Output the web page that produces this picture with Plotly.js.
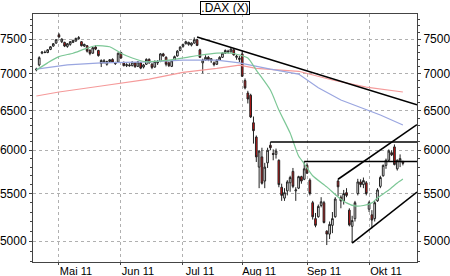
<!DOCTYPE html>
<html><head><meta charset="utf-8">
<script src="https://cdn.plot.ly/plotly-3.0.1.min.js"></script>
<style>html,body{margin:0;padding:0;background:#fff}#chart{width:450px;height:276px;outline:2px solid #d4d4d4;outline-offset:-2px}</style>
</head><body><div id="chart"></div>
<script>
const dates = ['2011-04-18','2011-04-19','2011-04-20','2011-04-21','2011-04-26','2011-04-27','2011-04-28','2011-04-29',
'2011-05-02','2011-05-03','2011-05-04','2011-05-05','2011-05-06','2011-05-09','2011-05-10','2011-05-11','2011-05-12','2011-05-13',
'2011-05-16','2011-05-17','2011-05-18','2011-05-19','2011-05-20','2011-05-23','2011-05-24','2011-05-25','2011-05-26','2011-05-27','2011-05-30','2011-05-31',
'2011-06-01','2011-06-02','2011-06-03','2011-06-06','2011-06-07','2011-06-08','2011-06-09','2011-06-10','2011-06-13','2011-06-14','2011-06-15','2011-06-16','2011-06-17',
'2011-06-20','2011-06-21','2011-06-22','2011-06-23','2011-06-24','2011-06-27','2011-06-28','2011-06-29','2011-06-30',
'2011-07-01','2011-07-04','2011-07-05','2011-07-06','2011-07-07','2011-07-08','2011-07-11','2011-07-12','2011-07-13','2011-07-14','2011-07-15',
'2011-07-18','2011-07-19','2011-07-20','2011-07-21','2011-07-22','2011-07-25','2011-07-26','2011-07-27','2011-07-28','2011-07-29',
'2011-08-01','2011-08-02','2011-08-03','2011-08-04','2011-08-05','2011-08-08','2011-08-09','2011-08-10','2011-08-11','2011-08-12',
'2011-08-15','2011-08-16','2011-08-17','2011-08-18','2011-08-19','2011-08-22','2011-08-23','2011-08-24','2011-08-25','2011-08-26','2011-08-29','2011-08-30','2011-08-31',
'2011-09-01','2011-09-02','2011-09-05','2011-09-06','2011-09-07','2011-09-08','2011-09-09','2011-09-12','2011-09-13','2011-09-14','2011-09-15','2011-09-16',
'2011-09-19','2011-09-20','2011-09-21','2011-09-22','2011-09-23','2011-09-26','2011-09-27','2011-09-28','2011-09-29','2011-09-30',
'2011-10-03','2011-10-04','2011-10-05','2011-10-06','2011-10-07','2011-10-10','2011-10-11','2011-10-12','2011-10-13','2011-10-14','2011-10-17','2011-10-18','2011-10-19'];

const open = [7050,7120,7290,7305,7300,7345,7395,7440,
7565,7460,7450,7390,7420,7450,7470,7505,7460,7395,
7400,7330,7290,7380,7330,7140,7160,7130,7170,7200,7150,7160,
7300,7150,7110,7120,7110,7150,7100,7150,7090,7130,7200,7130,7090,
7150,7170,7280,7230,7150,7100,7190,7250,7330,
7390,7430,7420,7410,7440,7490,7340,7150,7190,7230,7180,
7150,7130,7190,7230,7290,7320,7310,7340,7230,7200,
7280,6900,6730,6700,6340,6160,5800,5920,5640,5850,
6060,5960,5950,5880,5570,5450,5530,5620,5750,5530,5560,5690,5660,
5820,5650,5400,5230,5250,5370,5400,5100,5070,5160,5250,5640,
5460,5420,5510,5320,5150,5230,5500,5630,5600,5620,
5330,5270,5230,5420,5580,5700,5820,5880,5970,6040,5780,5870,5860];

const high = [7080,7245,7320,7330,7350,7395,7440,7500,
7590,7510,7460,7440,7470,7490,7520,7545,7470,7430,
7410,7350,7380,7405,7340,7200,7205,7180,7205,7215,7165,7300,
7310,7170,7145,7145,7170,7160,7170,7160,7135,7215,7215,7150,7185,
7190,7290,7295,7245,7170,7190,7255,7335,7390,
7430,7475,7460,7450,7525,7505,7355,7210,7260,7250,7220,
7170,7200,7245,7300,7345,7340,7365,7350,7265,7250,
7320,6930,6760,6720,6420,6180,6000,6030,5850,6030,
6100,6010,6020,5890,5610,5560,5650,5700,5790,5570,5700,5700,5870,
5845,5670,5420,5290,5380,5460,5420,5110,5200,5300,5460,5660,
5480,5540,5560,5340,5260,5420,5665,5660,5680,5640,
5420,5320,5420,5560,5700,5830,5900,6010,6000,6070,5890,5950,5875];

const low = [7030,7100,7275,7290,7290,7335,7385,7430,
7520,7440,7380,7370,7400,7440,7460,7490,7390,7380,
7300,7260,7280,7335,7240,7090,7140,7110,7150,7150,7120,7150,
7210,7100,7090,7095,7100,7080,7090,7060,7070,7120,7140,7060,7080,
7120,7160,7240,7100,7090,7090,7180,7240,7320,
7370,7420,7400,7390,7430,7395,7220,7000,7180,7175,7150,
7100,7120,7180,7220,7280,7285,7300,7255,7195,7160,
6950,6780,6590,6400,6080,5860,5560,5600,5560,5790,
6000,5880,5900,5570,5420,5420,5480,5520,5560,5420,5550,5610,5650,
5720,5480,5220,5140,5240,5350,5180,4960,5020,5080,5240,5470,
5340,5380,5460,5150,4980,5200,5480,5570,5560,5480,
5300,5130,5200,5410,5560,5690,5780,5870,5930,5820,5760,5800,5820];

const close = [7060,7225,7305,7300,7340,7385,7430,7490,
7530,7500,7395,7430,7460,7480,7510,7520,7400,7420,
7320,7285,7370,7350,7255,7185,7180,7170,7195,7160,7140,7290,
7220,7110,7125,7110,7160,7095,7165,7075,7120,7200,7150,7085,7170,
7160,7280,7250,7130,7110,7180,7240,7320,7380,
7420,7460,7450,7440,7490,7405,7230,7190,7230,7195,7210,
7125,7190,7230,7290,7330,7310,7350,7265,7245,7215,
6960,6800,6650,6415,6240,5920,5990,5615,5800,6000,
6030,5950,5990,5600,5480,5510,5630,5680,5580,5540,5690,5640,5780,
5730,5500,5250,5160,5360,5410,5190,5070,5170,5230,5440,5575,
5420,5500,5480,5165,5210,5400,5630,5600,5645,5500,
5400,5215,5400,5540,5680,5820,5880,5990,5945,5830,5880,5900,5845];

const ma1Dates = ['2011-04-18','2011-04-26','2011-05-02','2011-05-09','2011-05-13','2011-05-19','2011-05-26','2011-06-01','2011-06-07','2011-06-14','2011-06-24','2011-07-01','2011-07-11','2011-07-19','2011-07-26','2011-07-29','2011-08-03','2011-08-08','2011-08-15','2011-08-18','2011-08-24','2011-08-29','2011-08-31','2011-09-05','2011-09-12','2011-09-16','2011-09-21','2011-09-26','2011-09-29','2011-10-04','2011-10-06','2011-10-12','2011-10-17','2011-10-19'];
const ma1 = [7047,7150,7240,7290,7350,7400,7385,7290,7220,7165,7190,7220,7260,7290,7290,7264,7220,7047,6770,6504,6210,5930,5840,5700,5574,5463,5398,5365,5370,5398,5453,5540,5618,5663];
const ma2Dates = ['2011-04-18','2011-05-05','2011-05-23','2011-06-15','2011-07-01','2011-07-19','2011-07-29','2011-08-15','2011-08-29','2011-09-07','2011-09-19','2011-09-30','2011-10-07','2011-10-19'];
const ma2 = [7060,7120,7150,7165,7190,7190,7150,7060,6990,6800,6636,6504,6439,6311];
const ma3Dates = ['2011-04-18','2011-05-02','2011-05-23','2011-06-15','2011-07-01','2011-07-19','2011-07-29','2011-08-08','2011-08-29','2011-09-14','2011-09-30','2011-10-19'];
const ma3 = [6690,6744,6825,6921,7015,7070,7118,7070,7030,6908,6811,6744];

// trend lines: start date / start value / value at right edge of chart
const trendStart = ['2011-07-08','2011-08-15','2011-08-31','2011-09-16','2011-09-23'];
const trendStartVal = [7530,6100,5865,5660,4979];
const trendEndVal = [6572,6100,5865,6317,5517];

const monthNames = {'05':'Mai','06':'Jun','07':'Jul','08':'Aug','09':'Sep','10':'Okt'};
const yTicks = [5000,5500,6000,6500,7000,7500];

const idx = d => dates.indexOf(d);
const xs = dates.map((d,i)=>i);
const tickIdx=[], tickText=[];
dates.forEach((d,i)=>{ if(i>0 && d.slice(5,7)!==dates[i-1].slice(5,7)){ tickIdx.push(i); tickText.push(monthNames[d.slice(5,7)]+' '+d.slice(2,4)); }});
const xRange = [-1.2, 135];
const yRange = [3.6807, 3.8969];
const minorY = []; for(let v=4800; v<=7900; v+=100) minorY.push(v);

const ff = '"Liberation Sans", Arial, sans-serif';
const font = {family:ff, size:12, color:'#000'};
const traces = [
  {type:'scatter', mode:'lines', x:ma3Dates.map(idx), y:ma3, line:{color:'#f59a9a', width:1.2}, hoverinfo:'skip'},
  {type:'scatter', mode:'lines', x:ma2Dates.map(idx), y:ma2, line:{color:'#9aa6e0', width:1.2}, hoverinfo:'skip'},
  {type:'scatter', mode:'lines', x:ma1Dates.map(idx), y:ma1, line:{color:'#7cc796', width:1.2, shape:'spline', smoothing:0.6}, hoverinfo:'skip'},
  {type:'candlestick', x:xs, open:open, high:high, low:low, close:close,
   increasing:{fillcolor:'#ffffff', line:{color:'#222', width:1}},
   decreasing:{fillcolor:'#e01010', line:{color:'#222', width:1}},
   whiskerwidth:0, hoverinfo:'skip'}
];
trendStart.forEach((d,k)=>{
  traces.push({type:'scatter', mode:'lines', x:[idx(d), xRange[1]], y:[trendStartVal[k], trendEndVal[k]],
    line:{color:'#000', width:1.6}, hoverinfo:'skip', yaxis: k===0 ? 'y2':'y'});
});

const yBase = {type:'log', range:yRange, tickvals:yTicks, ticktext:yTicks.map(String), tickfont:font,
  ticks:'outside', ticklen:3, tickcolor:'#444', showline:true, linecolor:'#444', linewidth:1, zeroline:false,
  minor:{tickvals:minorY, ticks:'outside', ticklen:2, tickcolor:'#444', showgrid:false}, fixedrange:true};

const layout = {
  width:450, height:276, margin:{l:33, r:33, t:14, b:14},
  paper_bgcolor:'#ffffff', plot_bgcolor:'#ffffff', showlegend:false, boxgap:0.15,
  xaxis:{type:'linear', range:xRange, tickvals:tickIdx, ticktext:tickText, tickfont:{family:ff, size:11, color:'#000'},
    ticklabelshift:17, ticklabelstandoff:-3,
    showgrid:true, gridcolor:'#b0b0b0', griddash:'dot', gridwidth:1, showline:true, linecolor:'#444', mirror:true,
    ticks:'outside', ticklen:2, tickcolor:'#444', zeroline:false, rangeslider:{visible:false}, fixedrange:true},
  yaxis:Object.assign({}, yBase, {side:'left', showgrid:true, gridcolor:'#b0b0b0', griddash:'dot', gridwidth:1, mirror:true}),
  yaxis2:Object.assign({}, yBase, {side:'right', overlaying:'y', showgrid:false}),
  annotations:[{text:'.DAX (X)', xref:'paper', yref:'paper', x:0.5, y:1.024, xanchor:'center', yanchor:'middle',
    showarrow:false, font:{family:ff, size:12, color:'#000'}, width:48, height:12,
    bgcolor:'#fff', bordercolor:'#000', borderwidth:1, borderpad:0}]
};
Plotly.newPlot('chart', traces, layout, {staticPlot:true, displayModeBar:false});
</script></body></html>
